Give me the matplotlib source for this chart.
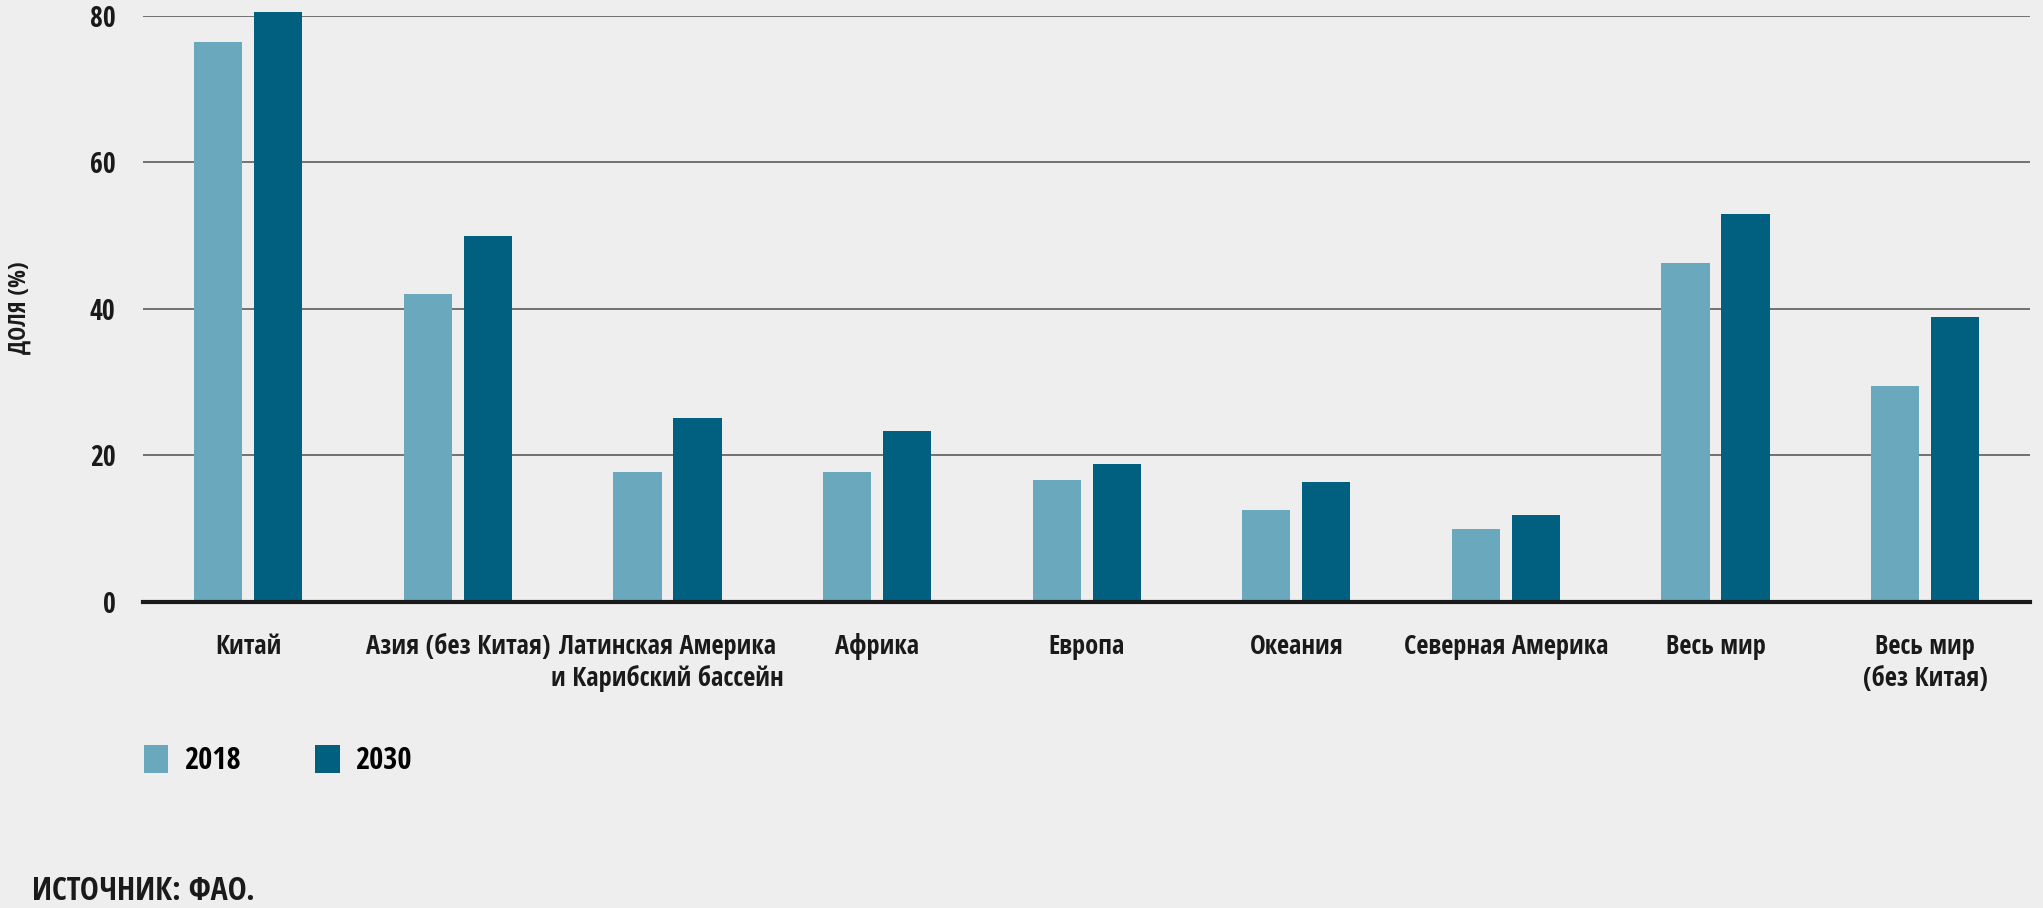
import numpy as np
import matplotlib.pyplot as plt

# Regions and shares (%)
categories = ['Китай', 'Азия (без Китая)', 'Латинская Америка\nи Карибский бассейн',
              'Африка', 'Европа', 'Океания', 'Северная Америка',
              'Весь мир', 'Весь мир\n(без Китая)']
share_2018 = [76.4, 42.0, 17.8, 17.8, 16.7, 12.6, 10.0, 46.2, 29.5]
share_2030 = [80.5, 50.0, 25.1, 23.3, 18.8, 16.4, 11.9, 53.0, 38.9]
series_labels = ['2018', '2030']
y_ticks = [0, 20, 40, 60, 80]

light = '#6aa8bd'
dark = '#01607f'
bg = '#eeeeee'
txt = '#1a1a1a'

# condensed bold, close to the original typeface
plt.rcParams['font.family'] = ['Open Sans Condensed', 'IBM Plex Sans Condensed', 'DejaVu Sans']
plt.rcParams['font.weight'] = 'bold'

fig = plt.figure(figsize=(20.43, 9.08), dpi=100, facecolor=bg)
ax = fig.add_axes([0.0702, 0.337, 0.9234, 0.6458])
ax.set_facecolor(bg)

x = np.arange(len(categories))
width = 0.23
offset = 0.143
b1 = ax.bar(x - offset, share_2018, width, color=light, label=series_labels[0], zorder=3, clip_on=False)
b2 = ax.bar(x + offset, share_2030, width, color=dark, label=series_labels[1], zorder=3, clip_on=False)

ax.set_xlim(-0.5, len(categories) - 0.5)
ax.set_ylim(0, 80)
ax.set_yticks(y_ticks)
ax.set_yticklabels([str(t) for t in y_ticks], fontsize=20, fontweight='bold', color=txt)
ax.set_xticks(x)
ax.set_xticklabels(categories, fontsize=19, fontweight='bold', color=txt, linespacing=1.28)
ax.tick_params(axis='both', length=0)
ax.tick_params(axis='x', pad=22)
ax.tick_params(axis='y', pad=20)

for t in y_ticks[1:]:
    ax.axhline(t, color='#505050', linewidth=1.1, zorder=1)
ax.axhline(0, color=txt, linewidth=3.0, zorder=4, clip_on=False)

for s in ax.spines.values():
    s.set_visible(False)

fig.text(0.0098, 0.661, 'ДОЛЯ (%)', rotation=90, fontsize=17, fontweight='bold',
         ha='center', va='center', color=txt)

fig.legend(handles=[b1, b2], labels=series_labels, loc='center left',
           bbox_to_anchor=(0.0705, 0.162), ncol=2, frameon=False,
           handlelength=0.8, handleheight=1.0, handletextpad=0.5,
           columnspacing=2.45, borderpad=0, borderaxespad=0,
           prop={'weight': 'bold', 'size': 22})

fig.text(0.0157, 0.009, 'ИСТОЧНИК: ФАО.', fontsize=23, fontweight='bold',
         ha='left', va='baseline', color=txt)

plt.savefig('out.png', dpi=100, facecolor=bg)
